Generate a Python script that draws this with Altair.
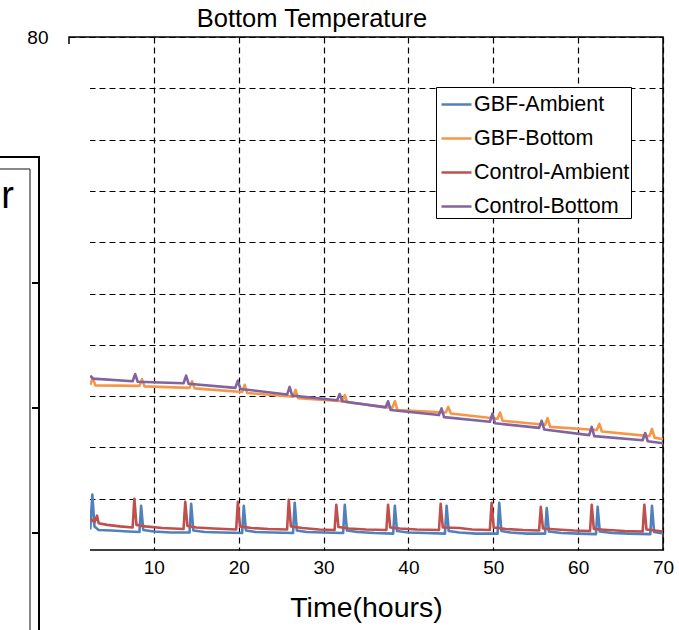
import altair as alt
import pandas as pd

# Time (hours) / temperature (°C) knots for each logged series
gbf_ambient_t = [2.5, 2.75, 3.0, 3.5, 5.0, 7.0, 8.3, 8.5, 8.75, 10.0, 12.0, 14.2, 14.4, 14.65,
                 16.0, 18.0, 20.4, 20.6, 20.85, 22.0, 24.0, 26.4, 26.6, 26.85, 28.0, 30.0,
                 32.3, 32.5, 32.75, 34.0, 36.0, 38.2, 38.4, 38.65, 40.0, 42.0, 44.3, 44.5,
                 44.75, 46.0, 48.0, 50.5, 50.7, 50.95, 52.0, 54.0, 56.1, 56.3, 56.55, 58.0,
                 60.0, 62.1, 62.3, 62.55, 64.0, 66.0, 68.5, 68.7, 68.95, 70.0]
gbf_ambient_v = [32.0, 35.4, 32.3, 31.95, 31.9, 31.8, 31.75, 34.3, 31.95, 31.8, 31.7, 31.7, 34.5, 31.9,
                 31.75, 31.7, 31.65, 34.3, 31.9, 31.75, 31.7, 31.65, 34.6, 31.9, 31.75, 31.7,
                 31.65, 34.4, 31.9, 31.75, 31.65, 31.6, 34.3, 31.85, 31.7, 31.65, 31.6, 34.3,
                 31.85, 31.7, 31.6, 31.6, 34.6, 31.85, 31.7, 31.6, 31.6, 34.1, 31.8, 31.65,
                 31.6, 31.55, 34.2, 31.8, 31.65, 31.6, 31.55, 34.3, 31.75, 31.6]

gbf_bottom_t = [2.5, 2.8, 3.1, 8.3, 8.6, 8.9, 14.2, 14.5, 14.8, 20.4, 20.7, 21.0, 26.4, 26.7, 27.0,
                32.2, 32.5, 32.8, 38.1, 38.4, 38.7, 44.4, 44.7, 45.0, 50.5, 50.8, 51.1,
                56.1, 56.4, 56.7, 62.2, 62.5, 62.8, 68.4, 68.7, 69.0, 70.0]
gbf_bottom_v = [46.1, 46.8, 46.05, 46.0, 46.65, 45.95, 45.8, 46.45, 45.75, 45.4, 46.1, 45.3,
                44.95, 45.6, 44.8, 44.5, 45.1, 44.4, 43.85, 44.5, 43.65, 43.4, 43.95, 43.3,
                42.8, 43.4, 42.6, 42.2, 42.85, 42.0, 41.7, 42.3, 41.55, 41.1, 41.8, 40.95, 40.8]

control_ambient_t = [2.5, 3.0, 3.3, 3.5, 4.5, 6.0, 7.5, 7.7, 7.95, 9.0, 11.0, 13.5, 13.7, 13.95,
                     15.0, 17.0, 19.7, 19.9, 20.15, 21.5, 23.5, 25.7, 25.9, 26.15, 27.5, 29.5,
                     31.3, 31.5, 31.75, 33.0, 35.0, 37.4, 37.6, 37.85, 39.0, 41.0, 43.6, 43.8,
                     44.05, 46.0, 47.5, 49.6, 49.8, 50.05, 51.5, 53.5, 55.4, 55.6, 55.85, 57.5,
                     59.5, 61.4, 61.6, 61.85, 63.5, 65.5, 67.6, 67.8, 68.05, 70.0]
control_ambient_v = [33.1, 32.7, 33.35, 32.6, 32.45, 32.3, 32.2, 35.0, 32.45, 32.3, 32.15, 32.05, 34.7, 32.35,
                     32.2, 32.1, 32.0, 34.7, 32.3, 32.15, 32.05, 32.0, 34.9, 32.3, 32.15, 32.0,
                     31.95, 34.4, 32.25, 32.1, 32.0, 31.95, 34.4, 32.2, 32.1, 32.0, 31.95, 34.5,
                     32.2, 32.15, 32.0, 31.95, 34.6, 32.2, 32.05, 31.95, 31.9, 34.2, 32.1, 32.0,
                     31.9, 31.85, 34.4, 32.05, 31.95, 31.85, 31.8, 34.4, 32.0, 31.8]

control_bottom_t = [2.5, 2.8, 7.5, 7.8, 8.1, 13.5, 13.8, 14.1, 19.6, 19.9, 20.2, 25.7, 26.0, 26.3,
                    31.6, 31.9, 32.2, 37.3, 37.6, 37.9, 43.6, 43.9, 44.2, 49.6, 49.9, 50.2,
                    55.4, 55.7, 56.0, 61.3, 61.6, 61.9, 67.6, 67.9, 68.2, 70.0]
control_bottom_v = [47.0, 46.7, 46.45, 47.15, 46.4, 46.25, 47.0, 46.2, 45.8, 46.5, 45.7,
                    45.15, 45.9, 45.05, 44.6, 45.2, 44.5, 43.9, 44.5, 43.65, 43.15, 43.8, 42.95,
                    42.5, 43.3, 42.35, 41.9, 42.6, 41.75, 41.2, 42.0, 41.1, 40.7, 41.4, 40.6, 40.4]

series_names = ["GBF-Ambient", "GBF-Bottom", "Control-Ambient", "Control-Bottom"]
series_colors = ["#4F81BD", "#F79646", "#C0504D", "#8064A2"]
series_data = [(gbf_ambient_t, gbf_ambient_v), (gbf_bottom_t, gbf_bottom_v),
               (control_ambient_t, control_ambient_v), (control_bottom_t, control_bottom_v)]

x_ticks = [10, 20, 30, 40, 50, 60, 70]
y_ticks = [35, 40, 45, 50, 55, 60, 65, 70, 75, 80]

rows = []
for name, (ts, vs) in zip(series_names, series_data):
    for i, (t, v) in enumerate(zip(ts, vs)):
        rows.append({"series": name, "order": i, "time": t, "temp": v})
df = pd.DataFrame(rows)

FONT = "Liberation Sans"
W, H = 594, 513

lines = alt.Chart(df).mark_line(strokeWidth=2.6, strokeJoin="round").encode(
    x=alt.X("time:Q", scale=alt.Scale(domain=[0, 70], nice=False),
            axis=alt.Axis(values=x_ticks, title="Time(hours)", domain=False, ticks=False,
                          grid=True, gridColor="black", gridDash=[6, 4], gridWidth=1.2,
                          gridOpacity=1, labelFontSize=19, labelPadding=8,
                          labelColor="black", titleFontSize=28.5, titleFontWeight="normal",
                          titleColor="black", titlePadding=16, labelFlush=False)),
    y=alt.Y("temp:Q", scale=alt.Scale(domain=[30, 80], nice=False),
            axis=alt.Axis(values=y_ticks, title=None, domain=False, ticks=False,
                          grid=True, gridColor="black", gridDash=[6, 4], gridWidth=1.2,
                          gridOpacity=1, labelFontSize=19, labelPadding=21,
                          labelColor="black",
                          labelExpr="datum.value == 80 ? '80' : ''")),
    color=alt.Color("series:N",
                    scale=alt.Scale(domain=series_names, range=series_colors),
                    legend=alt.Legend(orient="none", legendX=367, legendY=50, title=None,
                                      strokeColor="black", fillColor="white", padding=1,
                                      labelFontSize=21.5, labelFont=FONT, labelColor="black",
                                      symbolType="stroke", symbolSize=900, symbolOffset=3,
                                      symbolStrokeWidth=2.5, rowPadding=7, labelOffset=1,
                                      labelLimit=400)),
    order="order:Q",
)

one = pd.DataFrame({"k": [0]})

# Panel edge that sits over the left side of the plot
cover = alt.Chart(one).mark_rect(color="white").encode(
    x=alt.value(-69), x2=alt.value(21), y=alt.value(7), y2=alt.value(593))

edge_outer = alt.Chart(one).mark_rule(color="black", strokeWidth=2).encode(
    x=alt.value(-30), y=alt.value(120), y2=alt.value(593))
edge_outer_top = alt.Chart(one).mark_rule(color="black", strokeWidth=2).encode(
    x=alt.value(-69), x2=alt.value(-29), y=alt.value(120))
edge_inner = alt.Chart(one).mark_rule(color="#555555", strokeWidth=1.4).encode(
    x=alt.value(-39), y=alt.value(132), y2=alt.value(593))
edge_inner_top = alt.Chart(one).mark_rule(color="#555555", strokeWidth=1.4).encode(
    x=alt.value(-69), x2=alt.value(-39), y=alt.value(132))

edge_ticks = alt.Chart(pd.DataFrame({"py": [246, 371, 496]})).mark_rule(
    color="black", strokeWidth=2).encode(
    x=alt.value(-37), x2=alt.value(-31), y=alt.Y("py:Q", scale=None))

edge_text = alt.Chart(one).mark_text(
    text="r", font=FONT, fontSize=38, align="right", baseline="alphabetic", color="black"
).encode(x=alt.value(-55), y=alt.value(171))

title = alt.Chart(one).mark_text(
    text="Bottom Temperature", font=FONT, fontSize=25.5, align="center",
    baseline="alphabetic", color="black"
).encode(x=alt.value(243), y=alt.value(-10))

chart = alt.layer(
    lines, cover, edge_outer, edge_outer_top, edge_inner, edge_inner_top, edge_ticks,
    edge_text, title
).properties(
    width=W, height=H,
    autosize=alt.AutoSizeParams(type="none"),
    padding={"left": 69, "top": 37, "right": 16, "bottom": 80},
).configure(
    font=FONT, background="white"
).configure_view(
    stroke="black", strokeWidth=1.5
).configure_axis(
    labelFont=FONT, titleFont=FONT
)

chart.save("out.html", embed_options={"renderer": "svg", "actions": False})
